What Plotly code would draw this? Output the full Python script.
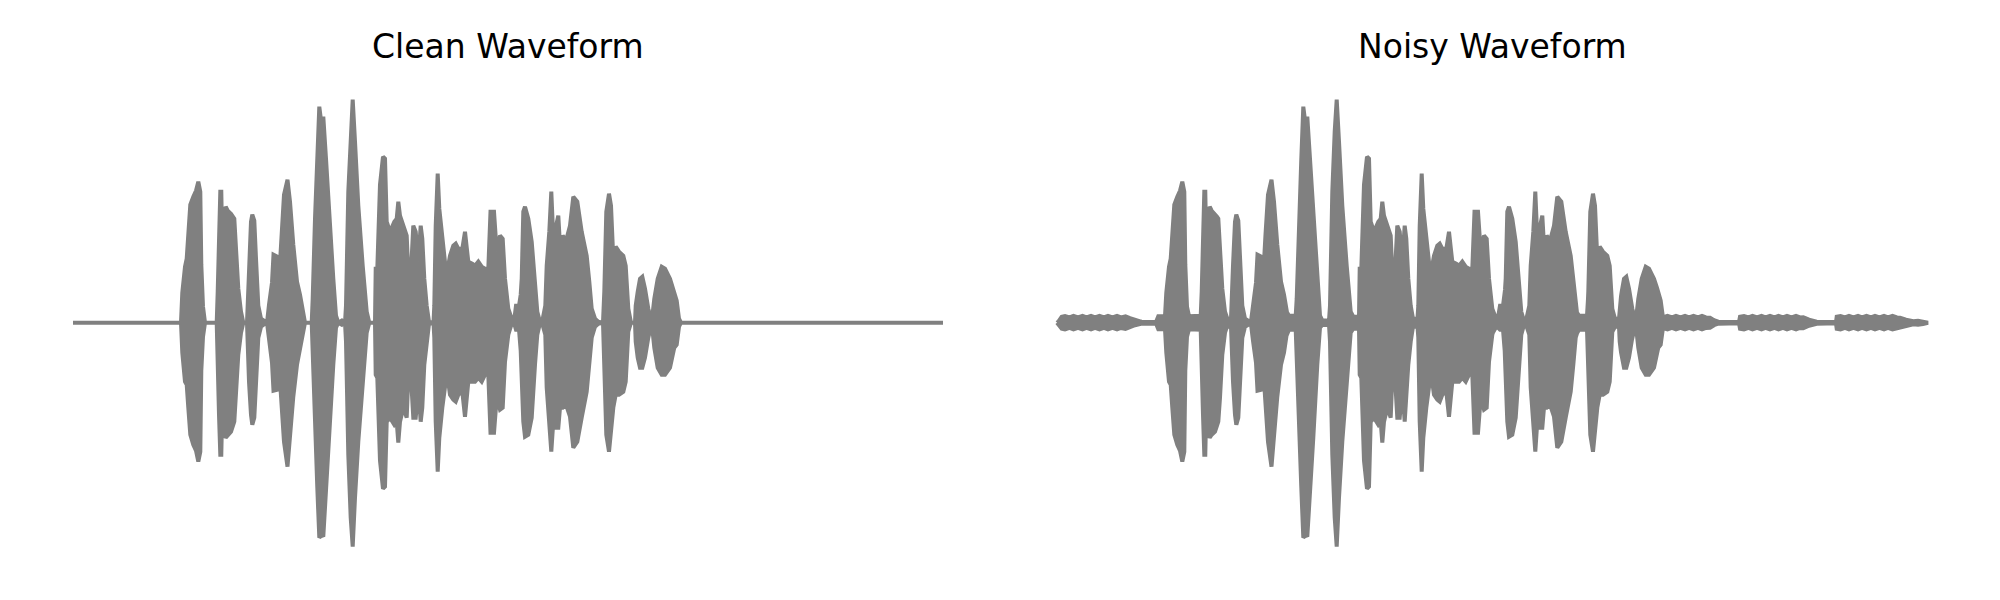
import numpy as np
import plotly.graph_objects as go

# ---- Clean waveform envelope (time in seconds, amplitude) ----
time_s = [0, 0.336, 0.3388, 0.342, 0.432, 0.4372, 0.4412, 0.448, 0.4548, 0.4612, 0.4692, 0.4812, 0.492, 0.5012,
          0.5092, 0.5132, 0.52, 0.528, 0.5748, 0.5788, 0.584, 0.5892, 0.5932, 0.596, 0.6052, 0.6108, 0.6188, 0.632,
          0.6452, 0.652, 0.6612, 0.672, 0.6812, 0.696, 0.6988, 0.704, 0.712, 0.7172, 0.7252, 0.732, 0.7412, 0.752,
          0.768, 0.776, 0.784, 0.796, 0.802, 0.818, 0.824, 0.834, 0.844, 0.858, 0.868, 0.8812, 0.896, 0.908, 0.918,
          0.928, 0.9548, 0.9588, 0.968, 0.9772, 0.9852, 0.9948, 1.0012, 1.012, 1.0252, 1.0412, 1.052, 1.0612,
          1.0748, 1.0812, 1.088, 1.092, 1.1012, 1.1108, 1.1188, 1.128, 1.1412, 1.1588, 1.1748, 1.1852, 1.208,
          1.2108, 1.2172, 1.228, 1.24, 1.248, 1.2548, 1.268, 1.2852, 1.2948, 1.3012, 1.308, 1.3212, 1.3348, 1.3412,
          1.352, 1.3612, 1.3708, 1.3812, 1.3908, 1.3972, 1.4052, 1.4148, 1.424, 1.442, 1.4452, 1.4508, 1.4588,
          1.4652, 1.4772, 1.4908, 1.4988, 1.508, 1.5212, 1.5308, 1.5412, 1.5572, 1.568, 1.5812, 1.5972, 1.608,
          1.6212, 1.6348, 1.648, 1.6612, 1.67, 1.684, 1.6948, 1.708, 1.7188, 1.728, 1.7412, 1.7548, 1.764, 1.772,
          1.784, 1.7908, 1.7948, 1.8012, 1.808, 1.8212, 1.8348, 1.848, 1.8572, 1.868, 1.876, 1.8892, 1.8948,
          1.9052, 1.9132, 1.9212, 1.9308, 1.9412, 1.948, 1.9588, 1.972, 1.988, 2.0012, 2.0172, 2.0348, 2.0548,
          2.0652, 2.0748, 2.088, 2.1012, 2.12, 2.1252, 2.1332, 2.144, 2.152, 2.1612, 2.1708, 2.184, 2.2012, 2.2108,
          2.2212, 2.232, 2.248, 2.2508, 2.2588, 2.268, 2.2772, 2.288, 2.3012, 2.3148, 2.3252, 2.3388, 2.3548,
          2.368, 2.388, 2.4052, 2.4148, 2.424, 2.432, 3.48]

clean_upper = [0, 0, 0.004, 0, 0, 0.12, 0.176, 0.224, 0.256, 0.348, 0.472, 0.504, 0.528, 0.564,
               0.524, 0.232, 0.064, 0, 0, 0.124, 0.364, 0.524, 0.524, 0.364, 0.416, 0.464, 0.448, 0.436,
               0.416, 0.308, 0.136, 0.044, 0, 0, 0.068, 0.228, 0.404, 0.432, 0.408, 0.256, 0.068, 0.016,
               0.004, 0, 0.072, 0.16, 0.272, 0.264, 0.172, 0.352, 0.512, 0.572, 0.484, 0.312, 0.164, 0.112, 0.052,
               0, 0, 0.096, 0.416, 0.656, 0.864, 0.788, 0.824, 0.656, 0.416, 0.176, 0.028, 0,
               0.008, 0, 0, 0.068, 0.524, 0.764, 0.892, 0.724, 0.468, 0.228, 0.044, 0, 0,
               0.216, 0.216, 0.552, 0.664, 0.656, 0.404, 0.364, 0.404, 0.416, 0.484, 0.428, 0.388, 0.348, 0.204,
               0.204, 0.388, 0.364, 0.244, 0.388, 0.336, 0.176, 0.068, 0.004, 0, 0.068, 0.388, 0.596,
               0.456, 0.324, 0.216, 0.216, 0.268, 0.308, 0.316, 0.296, 0.296, 0.364, 0.244, 0.236, 0.228,
               0.244, 0.224, 0.216, 0.216, 0.444, 0.444, 0.284, 0.348, 0.336, 0.176, 0.056, 0.016, 0.004, 0.068,
               0.068, 0.112, 0.176, 0.444, 0.464, 0.416, 0.324, 0.124, 0.044, 0.004, 0, 0.068, 0.228,
               0.364, 0.524, 0.336, 0.388, 0.428, 0.308, 0.348, 0.328, 0.388, 0.504, 0.484, 0.364, 0.268,
               0.164, 0.056, 0.016, 0.004, 0, 0.124, 0.444, 0.516, 0.468, 0.256, 0.304, 0.284, 0.268, 0.228,
               0.056, 0, 0, 0.068, 0.124, 0.176, 0.184, 0.136, 0.056, 0.004, 0.096, 0.176, 0.224,
               0.216, 0.176, 0.124, 0.088, 0.016, 0, 0]

clean_lower_abs = [0, 0, 0.004, 0, 0, 0.12, 0.168, 0.236, 0.248, 0.34, 0.448, 0.488, 0.512, 0.556,
                   0.516, 0.192, 0.056, 0, 0, 0.116, 0.368, 0.528, 0.528, 0.392, 0.436, 0.46, 0.448, 0.436,
                   0.396, 0.3, 0.128, 0.04, 0, 0, 0.06, 0.236, 0.368, 0.408, 0.38, 0.22, 0.06, 0.016,
                   0.004, 0, 0.072, 0.16, 0.272, 0.268, 0.172, 0.34, 0.476, 0.576, 0.46, 0.296, 0.168, 0.12, 0.052,
                   0, 0, 0.1, 0.42, 0.66, 0.86, 0.848, 0.856, 0.66, 0.46, 0.168, 0.02, 0,
                   0.008, 0, 0, 0.076, 0.528, 0.78, 0.896, 0.7, 0.476, 0.236, 0.04, 0, 0,
                   0.208, 0.22, 0.552, 0.664, 0.656, 0.396, 0.38, 0.408, 0.396, 0.48, 0.396, 0.34, 0.38, 0.22,
                   0.22, 0.38, 0.38, 0.26, 0.396, 0.34, 0.168, 0.076, 0.004, 0, 0.06, 0.396, 0.596,
                   0.46, 0.34, 0.236, 0.22, 0.288, 0.308, 0.316, 0.288, 0.276, 0.376, 0.236, 0.236, 0.236,
                   0.22, 0.236, 0.208, 0.208, 0.44, 0.44, 0.3, 0.348, 0.34, 0.156, 0.048, 0.004, 0, 0.028,
                   0.028, 0.112, 0.196, 0.396, 0.456, 0.448, 0.38, 0.168, 0.048, 0, 0, 0.048, 0.26,
                   0.396, 0.516, 0.396, 0.42, 0.42, 0.34, 0.34, 0.328, 0.376, 0.5, 0.476, 0.38, 0.276,
                   0.168, 0.06, 0.016, 0.004, 0, 0.128, 0.448, 0.516, 0.448, 0.34, 0.288, 0.288, 0.276, 0.236,
                   0.036, 0, 0, 0.076, 0.14, 0.18, 0.18, 0.14, 0.06, 0, 0.1, 0.18, 0.208,
                   0.208, 0.18, 0.1, 0.088, 0.016, 0, 0]

# ---- Added noise envelope (noisy waveform) ----
noise_time_s = [0, 0.0068, 0.0188, 0.032, 0.05, 0.066, 0.084, 0.102, 0.118, 0.136, 0.152, 0.17, 0.188, 0.204,
                0.222, 0.24, 0.256, 0.274, 0.292, 0.312, 0.3388, 0.368, 0.396, 0.4052, 0.432,
                0.52, 0.58, 0.64, 0.68, 0.704, 0.74, 0.78, 0.82, 0.92, 0.968, 1.048, 1.088, 1.16, 1.212,
                1.32, 1.424, 1.452, 1.6, 1.744, 1.792, 1.848, 1.892, 2.0, 2.08, 2.124, 2.18, 2.224, 2.256,
                2.3, 2.4, 2.416,
                2.4252, 2.442, 2.46, 2.476, 2.494, 2.512, 2.528, 2.546, 2.564, 2.58, 2.596, 2.612, 2.628,
                2.6452, 2.688, 2.728,
                2.732, 2.748, 2.766, 2.782, 2.8, 2.818, 2.834, 2.852, 2.87, 2.886, 2.904, 2.92, 2.938,
                2.956, 2.972, 2.9852, 3.008, 3.0388, 3.08, 3.116,
                3.1188, 3.134, 3.152, 3.168, 3.186, 3.204, 3.22, 3.238, 3.256, 3.272, 3.29, 3.308, 3.324,
                3.342, 3.36, 3.372, 3.396, 3.4252, 3.444, 3.464, 3.484]

noise_level = [0, 0.006, 0.024, 0.027, 0.021, 0.027, 0.021, 0.027, 0.021, 0.027, 0.021, 0.027, 0.021, 0.027,
               0.021, 0.027, 0.021, 0.025, 0.018, 0.01, 0.004, 0.003, 0.003, 0.026, 0.026,
               0.026, 0.028, 0.02, 0.016, 0.016, 0.006, 0.006, 0.02, 0.028, 0.028, 0.01, 0.008, 0.024, 0.024,
               0.02, 0.016, 0.016, 0.02, 0.02, 0.02, 0.008, 0.008, 0.02, 0.028, 0.028, 0.02, 0.016, 0.016,
               0.004, 0.004, 0.004,
               0.022, 0.027, 0.021, 0.027, 0.021, 0.027, 0.021, 0.027, 0.021, 0.027, 0.021, 0.02, 0.01,
               0.004, 0.003, 0.003,
               0.024, 0.027, 0.021, 0.027, 0.021, 0.027, 0.021, 0.027, 0.021, 0.027, 0.021, 0.027, 0.021,
               0.027, 0.021, 0.022, 0.012, 0.004, 0.003, 0.003,
               0.024, 0.027, 0.021, 0.027, 0.021, 0.027, 0.021, 0.027, 0.021, 0.027, 0.021, 0.027, 0.021,
               0.027, 0.021, 0.02, 0.012, 0.006, 0.008, 0.005, 0.0]

titles = ["Clean Waveform", "Noisy Waveform"]
COLOR = "#808080"

t = np.array(time_s)
cu = np.array(clean_upper)
cl = np.array(clean_lower_abs)
nt = np.array(noise_time_s)
nl = np.array(noise_level)

grid = np.union1d(t, nt)
nu_up = np.maximum(np.interp(grid, t, cu), np.interp(grid, nt, nl))
nu_lo = np.maximum(np.interp(grid, t, cl), np.interp(grid, nt, nl))


def envelope_trace(x, up, lo, xa, ya):
    xs = np.concatenate([x, x[::-1]])
    ys = np.concatenate([up, -lo[::-1]])
    return go.Scatter(x=xs, y=ys, mode="lines", fill="toself", fillcolor=COLOR,
                      line=dict(color=COLOR, width=4), xaxis=xa, yaxis=ya,
                      hoverinfo="skip", showlegend=False)


fig = go.Figure()
fig.add_trace(envelope_trace(t, cu, cl, "x", "y"))
fig.add_trace(envelope_trace(grid, nu_up, nu_lo, "x2", "y2"))

yr = [-1.1412, 1.2588]
title_font = dict(family="DejaVu Sans", size=33, color="black")
fig.update_layout(
    width=2000, height=600,
    margin=dict(l=0, r=0, t=0, b=0),
    paper_bgcolor="white", plot_bgcolor="white",
    xaxis=dict(domain=[0, 0.5], range=[-0.26, 3.74], visible=False),
    yaxis=dict(domain=[0, 1], range=yr, visible=False),
    xaxis2=dict(domain=[0.5, 1], range=[-0.196, 3.804], visible=False),
    yaxis2=dict(domain=[0, 1], range=yr, visible=False, anchor="x2"),
    showlegend=False,
    annotations=[
        dict(text=titles[0], x=1.74, xref="x", y=1.1068, yref="y", showarrow=False,
             font=title_font, xanchor="center", yanchor="middle"),
        dict(text=titles[1], x=1.74, xref="x2", y=1.1068, yref="y2", showarrow=False,
             font=title_font, xanchor="center", yanchor="middle"),
    ],
)

fig.write_html("out.html")
